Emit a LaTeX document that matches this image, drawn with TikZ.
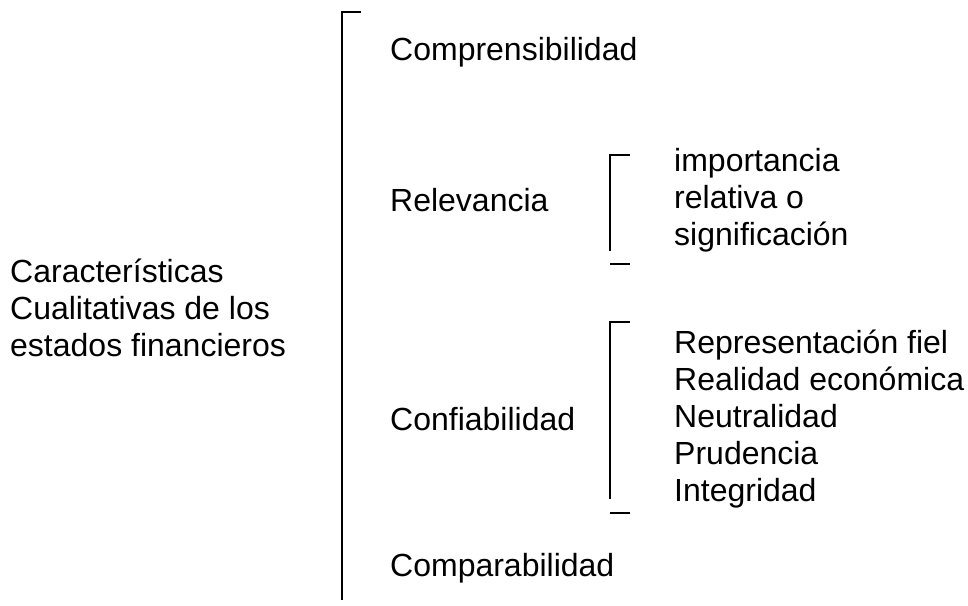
\documentclass[tikz,border=0pt]{standalone}
\usepackage{fontspec}
\setmainfont{Liberation Sans}
\usetikzlibrary{positioning}
\begin{document}
\begin{tikzpicture}[x=1pt,y=-1pt,
	thin,item/.style = {anchor=west, align=left, inner sep=0pt,
	font=\fontsize{32}{37}\selectfont},
	brace/.style = {line width=2.2pt}]
	\useasboundingbox (0,0) rectangle (968,605);
	\node[item] (root) at (10,308) {Características\\Cualitativas de los\\estados financieros};
	\node[item] (comp) at (390,52) {Comprensibilidad};
	\node[item] (rel) at (390,200) {Relevancia};
	\node[item] (imp) at (674,200) {importancia\\relativa o\\significación};
	\node[item] (conf) at (390,419) {Confiabilidad};
	\node[item] (rep) at (674,419) {Representación fiel\\Realidad económica\\Neutralidad\\Prudencia\\Integridad};
	\node[item] (compa) at (390,568) {Comparabilidad};
	
	% llaves
	\draw[brace] (361,12) -- (342,12) -- (342,600);
	\draw[brace] (630,155) -- (610,155) -- (610,251);
	\draw[brace] (610,264) -- (630,264);
	\draw[brace] (630,322) -- (610,322) -- (610,499);
	\draw[brace] (610,513) -- (630,513);
	\end{tikzpicture}
\end{document}
